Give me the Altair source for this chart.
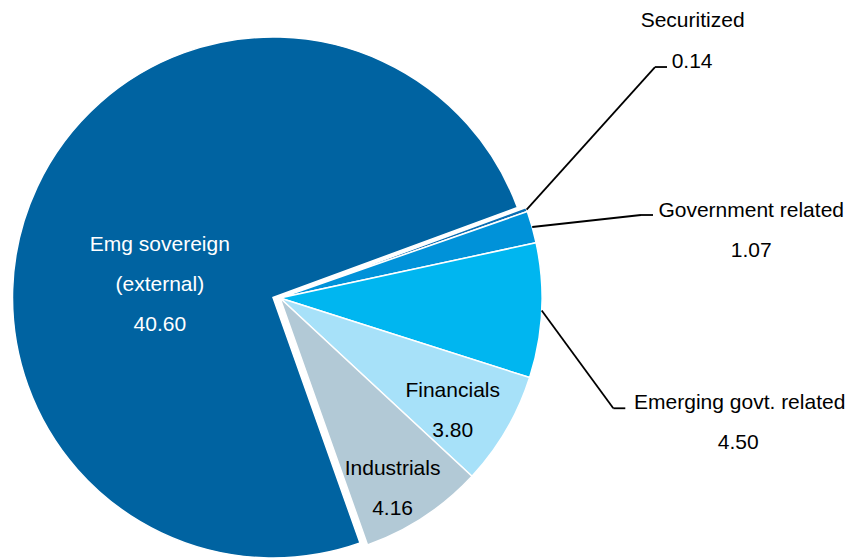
import math
import altair as alt
import pandas as pd

# ---- data ----
categories = ["Securitized", "Government related", "Emerging govt. related",
              "Financials", "Industrials", "Emg sovereign\n(external)"]
values = [0.14, 1.07, 4.50, 3.80, 4.16, 40.60]
colors = ["#0A6EB4", "#0092D9", "#00B6F0", "#A7E1F9", "#B2C9D6", "#0063A1"]

df = pd.DataFrame({"category": categories, "value": values,
                   "order": list(range(len(categories)))})

TOTAL = sum(values)
A0 = math.radians(69.8)
theta_scale = alt.Scale(domain=[0, TOTAL], range=[A0, A0 + 2 * math.pi])

# layout (chart pixel coords)
CX, CY, R = 272, 290, 262          # small slices centre
EX, EY, ER = 265, 289.5, 260.5     # exploded big slice centre
FONT = "Liberation Sans"
FS = 21

base = (alt.Chart(df)
        .transform_window(cum="sum(value)", sort=[alt.SortField("order")], frame=[None, 0])
        .transform_calculate(start="datum.cum - datum.value",
                             mid="datum.cum - datum.value / 2"))

color = alt.Color("category:N", scale=alt.Scale(domain=categories, range=colors), legend=None)

small_arcs = (base.transform_filter("datum.order < 5")
              .mark_arc(outerRadius=R, stroke="white", strokeWidth=1.5)
              .encode(theta=alt.Theta("start:Q", scale=theta_scale), theta2="cum:Q",
                      color=color, x=alt.value(CX), y=alt.value(CY)))
big_arc = (base.transform_filter("datum.order == 5")
           .mark_arc(outerRadius=ER, stroke="white", strokeWidth=1.5)
           .encode(theta=alt.Theta("start:Q", scale=theta_scale), theta2="cum:Q",
                   color=color, x=alt.value(EX), y=alt.value(EY)))


def text_layer(idx, text, cx, cy, r, dx, dy, fill, line_break=False):
    kw = dict(radius=r, dx=dx, dy=dy, font=FONT, fontSize=FS, color=fill,
              align="center", baseline="alphabetic")
    if line_break:
        kw.update(lineBreak="\n", lineHeight=40)
    return (base.transform_filter(f"datum.order == {idx}")
            .mark_text(**kw)
            .encode(theta=alt.Theta("mid:Q", scale=theta_scale, stack=False),
                    text=text, x=alt.value(cx), y=alt.value(cy)))


NAME = alt.Text("category:N")
VAL = alt.Text("value:Q", format=".2f")


def leader(idx, ddx, ddy, hl=12):
    lb = (base.transform_filter(f"datum.order == {idx}")
          .transform_calculate(ang=f"{A0} + 2 * PI * datum.mid / {TOTAL}")
          .transform_calculate(ex=f"{CX} + {R} * sin(datum.ang)",
                               ey=f"{CY} - {R} * cos(datum.ang)")
          .transform_calculate(bx=f"datum.ex + {ddx}", by=f"datum.ey + {ddy}")
          .transform_calculate(hx=f"datum.bx + {hl}"))
    seg1 = lb.mark_rule(color="black", strokeWidth=1.8).encode(
        x=alt.X("ex:Q", scale=None, axis=None), y=alt.Y("ey:Q", scale=None, axis=None),
        x2="bx:Q", y2="by:Q")
    seg2 = lb.mark_rule(color="black", strokeWidth=1.8).encode(
        x=alt.X("bx:Q", scale=None, axis=None), y=alt.Y("by:Q", scale=None, axis=None),
        x2="hx:Q")
    return [seg1, seg2]


layers = [small_arcs, big_arc]
# inside labels
layers += [
    text_layer(5, NAME, EX, EY, 125, 0, 7, "white", line_break=True),
    text_layer(5, VAL, EX, EY, 125, 0, 87, "white"),
    text_layer(3, NAME, CX, CY, 200, 0, -2, "black"),
    text_layer(3, VAL, CX, CY, 200, 0, 38, "black"),
    text_layer(4, NAME, CX, CY, 205, 0, 6, "black"),
    text_layer(4, VAL, CX, CY, 205, 0, 46, "black"),
]
# outside labels
layers += [
    text_layer(0, NAME, CX, CY, R, 166, -182.5, "black"),
    text_layer(0, VAL, CX, CY, R, 165.5, -141.5, "black"),
    text_layer(1, NAME, CX, CY, R, 219, -10.3, "black"),
    text_layer(1, VAL, CX, CY, R, 219, 29.5, "black"),
    text_layer(2, NAME, CX, CY, R, 198, 98.7, "black"),
    text_layer(2, VAL, CX, CY, R, 196.6, 138.7, "black"),
]
layers += leader(0, 128.4, -142.5)
layers += leader(1, 108.8, -12)
layers += leader(2, 71.6, 97.7)

chart = (alt.layer(*layers)
         .properties(width=840, height=550, padding=0,
                     autosize=alt.AutoSizeParams(type="none"))
         .configure_view(stroke=None))

chart.save("out.html", embed_options={"renderer": "svg", "actions": False})
